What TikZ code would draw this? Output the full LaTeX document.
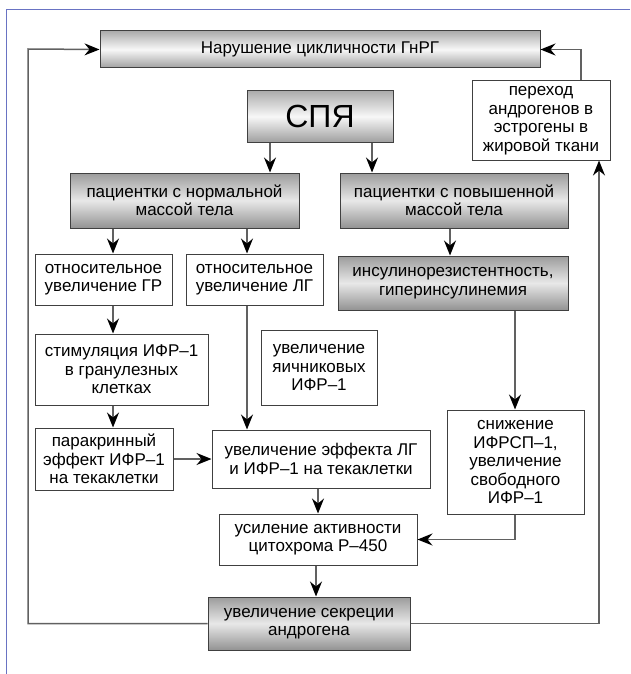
\documentclass[tikz,border=0pt]{standalone}
\usepackage{fontspec}
\setmainfont{Liberation Sans}
\usetikzlibrary{arrows.meta}
\newcommand\fsz{\fontsize{17}{18.5}\selectfont}
\definecolor{framecol}{RGB}{105,115,195}
\begin{document}
\begin{tikzpicture}[x=1pt,y=-1pt,
  box/.style={draw=black!75, line width=1pt, fill=white, align=center, inner sep=1pt, font=\fsz},
  shbox/.style={box, top color=gray!65, bottom color=gray!75, middle color=gray!6},
  dkbox/.style={box, top color=gray!78, bottom color=gray!85, middle color=gray!18},
  conn/.style={draw=black!62, line width=1.5pt},
  arr/.style={conn, -{Stealth[length=15pt,width=12pt,inset=5pt,color=black]}}
]
\useasboundingbox (0,0) rectangle (630,674);
\fill[white] (0,0) rectangle (630,674);
% frame
\draw[framecol, line width=0.9pt] (630,9) -- (6,9) -- (6,674);

% nodes
\node[shbox, minimum width=440, minimum height=37] (top) at (320,49.5) {Нарушение цикличности ГнРГ};
\node[shbox, minimum width=146, minimum height=51, font=\fontsize{32}{36}\selectfont] (spya) at (320,116.5) {СПЯ};
\node[box, minimum width=138, minimum height=79] (perehod) at (541,120.5) {переход\\андрогенов в\\эстрогены в\\жировой ткани};
\node[dkbox, minimum width=229, minimum height=55] (norm) at (184.5,200.5) {пациентки с нормальной\\массой тела};
\node[dkbox, minimum width=228, minimum height=55] (pov) at (454,200.5) {пациентки с повышенной\\массой тела};
\node[box, minimum width=137, minimum height=51] (gr) at (103.5,279.5) {относительное\\увеличение ГР};
\node[box, minimum width=137, minimum height=51] (lg) at (254.5,279.5) {относительное\\увеличение ЛГ};
\node[dkbox, minimum width=230, minimum height=54] (ins) at (453,283) {инсулинорезистентность,\\гиперинсулинемия};
\node[box, minimum width=173, minimum height=71] (stim) at (121.5,369.5) {стимуляция ИФР–1\\в гранулезных\\клетках};
\node[box, minimum width=116, minimum height=75] (yaich) at (319,367.5) {увеличение\\яичниковых\\ИФР–1};
\node[box, minimum width=138, minimum height=62] (para) at (104,459) {паракринный\\эффект ИФР–1\\на текаклетки};
\node[box, minimum width=218, minimum height=58] (eff) at (321,459) {увеличение эффекта ЛГ\\и ИФР–1 на текаклетки};
\node[box, minimum width=137, minimum height=104] (snizh) at (515.5,462) {снижение\\ИФРСП–1,\\увеличение\\свободного\\ИФР–1};
\node[box, minimum width=198, minimum height=51] (p450) at (318,539.5) {усиление активности\\цитохрома Р–450};
\node[dkbox, minimum width=202, minimum height=53] (andr) at (309,623.5) {увеличение секреции\\андрогена};

\coordinate (lc) at (28,49);

% connectors
\draw[arr] (spya.south -| 270,0) -- (norm.north -| 270,0);
\draw[arr] (spya.south -| 372,0) -- (pov.north -| 372,0);
\draw[arr] (norm.south -| 113,0) -- (gr.north -| 113,0);
\draw[arr] (norm.south -| 247,0) -- (lg.north -| 247,0);
\draw[arr] (pov.south -| 450,0) -- (ins.north -| 450,0);
\draw[arr] (gr.south -| 113,0) -- (stim.north -| 113,0);
\draw[arr] (lg.south -| 247,0) -- (eff.north -| 247,0);
\draw[arr] (stim.south -| 113,0) -- (para.north -| 113,0);
\draw[arr] (para.east) -- (eff.west |- para.east);
\draw[arr] (ins.south -| 515,0) -- (snizh.north -| 515,0);
\draw[arr] (eff.south -| 318,0) -- (p450.north -| 318,0);
\draw[arr] (snizh.south -| 515,0) |- (p450.east);
\draw[arr] (p450.south -| 316,0) -- (andr.north -| 316,0);
\draw[arr] (andr.west) -| (lc) -- (top.west);
\draw[arr] (andr.east) -| (perehod.south -| 599,0);
\draw[arr] (perehod.north -| 581,0) |- (top.east);
\end{tikzpicture}
\end{document}
